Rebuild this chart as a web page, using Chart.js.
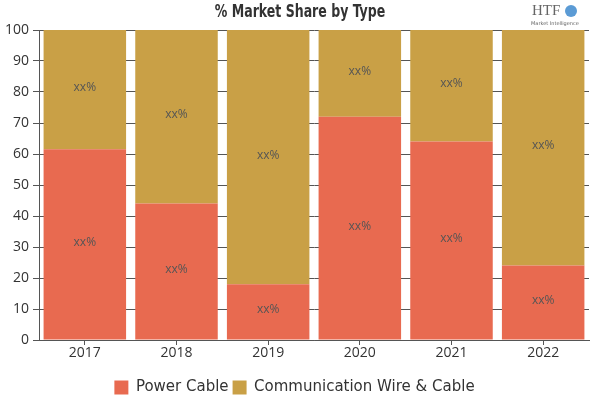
<!DOCTYPE html>
<html>
<head>
<meta charset="utf-8">
<script src="https://cdn.jsdelivr.net/npm/chart.js@4/dist/chart.umd.min.js"></script>
<style>
  html, body { margin: 0; padding: 0; background: #fff; }
  #wrap { width: 600px; height: 400px; }
</style>
</head>
<body>
<div id="wrap"><canvas id="chart" width="600" height="400"></canvas></div>
<script>
// --------------------
// Chart data
// --------------------
const years = ["2017", "2018", "2019", "2020", "2021", "2022"];
const powerCable = [61.5, 44, 18, 72, 64, 24];
const commWire = [38.5, 56, 82, 28, 36, 76];
const segmentLabel = "xx%";
const yTicks = [0, 10, 20, 30, 40, 50, 60, 70, 80, 90, 100];

// --------------------
// Plugins: title, logo, segment labels
// --------------------
const headerPlugin = {
  id: "header",
  afterDraw(chart) {
    const ctx = chart.ctx;
    ctx.save();
    // condensed heavy title
    ctx.translate(300, 13);
    ctx.scale(0.82, 1);
    ctx.fillStyle = "#333";
    ctx.font = "bold 17px 'Liberation Sans Narrow', 'DejaVu Sans Condensed', sans-serif";
    ctx.textAlign = "center";
    ctx.textBaseline = "middle";
    ctx.fillText("% Market Share by Type", 0, 0);
    ctx.restore();

    // small logo text
    ctx.save();
    ctx.fillStyle = "#666";
    ctx.font = "15px 'Liberation Serif', serif";
    ctx.textAlign = "left";
    ctx.textBaseline = "middle";
    ctx.fillText("HTF", 532, 11);
    ctx.fillStyle = "#5b9bd5";
    ctx.beginPath();
    ctx.arc(571, 11, 6, 0, Math.PI * 2);
    ctx.fill();
    ctx.fillStyle = "#666";
    ctx.font = "5px 'DejaVu Sans', sans-serif";
    ctx.fillText("Market Intelligence", 531, 24);
    ctx.restore();
  }
};

const segmentLabels = {
  id: "segmentLabels",
  afterDatasetsDraw(chart) {
    const ctx = chart.ctx;
    ctx.save();
    ctx.fillStyle = "#555";
    ctx.font = "12px 'Open Sans', sans-serif";
    ctx.textAlign = "center";
    ctx.textBaseline = "middle";
    chart.data.datasets.forEach((ds, i) => {
      chart.getDatasetMeta(i).data.forEach(bar => {
        const c = bar.getCenterPoint();
        ctx.fillText(segmentLabel, c.x, c.y - 2);
      });
    });
    ctx.restore();
  }
};

// --------------------
// Chart.js Setup
// --------------------
new Chart(document.getElementById("chart"), {
  type: "bar",
  data: {
    labels: years,
    datasets: [
      { label: "Power Cable", data: powerCable, backgroundColor: "#E86A50" },
      { label: "Communication Wire & Cable", data: commWire, backgroundColor: "#C9A046" }
    ]
  },
  options: {
    responsive: false,
    animation: false,
    layout: { padding: { top: 30, right: 11, bottom: -5, left: 0 } },
    datasets: { bar: { categoryPercentage: 0.9, barPercentage: 1 } },
    scales: {
      x: {
        stacked: true,
        afterFit(scale) { scale.height = 36; },
        grid: { drawOnChartArea: false, offset: false, color: "#555", tickLength: 5 },
        border: { color: "#555" },
        ticks: { color: "#333", font: { size: 14, family: "'Open Sans', sans-serif" }, padding: 0 }
      },
      y: {
        stacked: true,
        min: 0,
        max: 100,
        afterBuildTicks(scale) { scale.ticks = yTicks.map(v => ({ value: v })); },
        afterFit(scale) { scale.width = 39; },
        grid: { color: "#555", tickLength: 6 },
        border: { color: "#555" },
        ticks: { color: "#333", font: { size: 14, family: "'Open Sans', sans-serif" }, padding: 4 }
      }
    },
    plugins: {
      title: { display: false },
      tooltip: { enabled: false },
      legend: {
        position: "bottom",
        labels: {
          boxWidth: 14,
          boxHeight: 14,
          padding: 4,
          color: "#333",
          font: { size: 15, family: "'DejaVu Sans', sans-serif" }
        }
      }
    }
  },
  plugins: [headerPlugin, segmentLabels]
});
</script>
</body>
</html>
